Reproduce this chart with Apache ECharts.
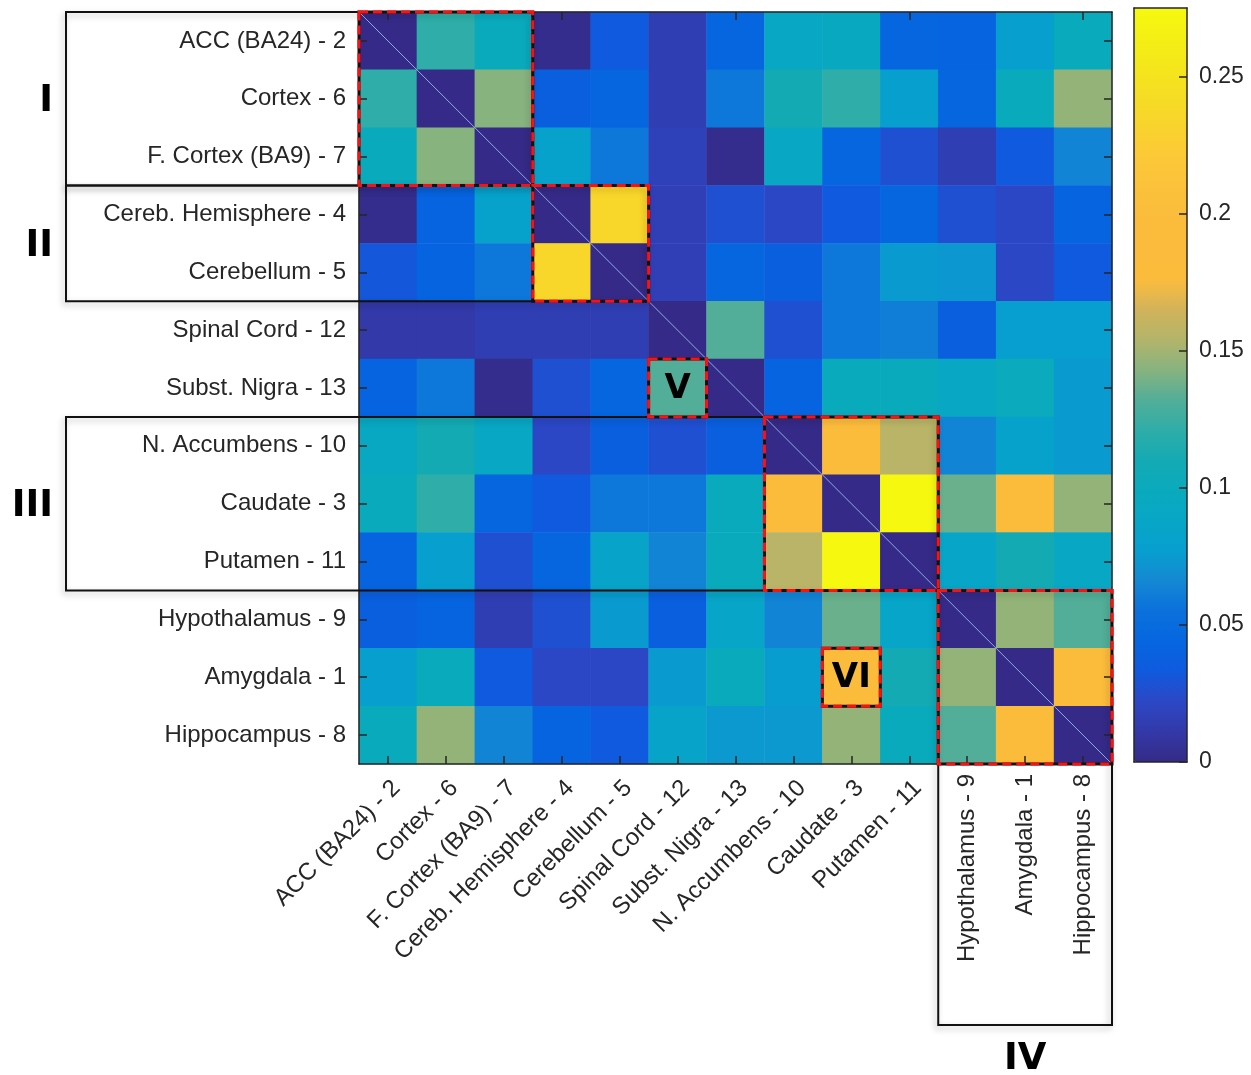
<!DOCTYPE html>
<html><head><meta charset="utf-8">
<script src="https://cdn.jsdelivr.net/npm/echarts@6/dist/echarts.min.js"></script>
<style>html,body{margin:0;padding:0;background:#fff}#c{width:1251px;height:1075px}</style>
</head><body><div id="c"></div>
<script>
// ---- Data ----
const regions = ['ACC (BA24) - 2','Cortex - 6','F. Cortex (BA9) - 7','Cereb. Hemisphere - 4','Cerebellum - 5',
  'Spinal Cord - 12','Subst. Nigra - 13','N. Accumbens - 10','Caudate - 3','Putamen - 11',
  'Hypothalamus - 9','Amygdala - 1','Hippocampus - 8'];
const rowACC      = [0, 0.121, 0.099, 0.002, 0.033, 0.015, 0.044, 0.092, 0.094, 0.044, 0.042, 0.078, 0.099];
const rowCortex   = [0.121, 0, 0.143, 0.038, 0.044, 0.015, 0.058, 0.11, 0.121, 0.078, 0.044, 0.099, 0.146];
const rowFCortex  = [0.099, 0.143, 0, 0.081, 0.058, 0.017, 0.002, 0.092, 0.044, 0.027, 0.015, 0.033, 0.064];
const rowCerebHem = [0.002, 0.042, 0.081, 0, 0.235, 0.016, 0.027, 0.022, 0.033, 0.044, 0.027, 0.022, 0.042];
const rowCerebel  = [0.031, 0.042, 0.058, 0.235, 0, 0.016, 0.044, 0.038, 0.058, 0.075, 0.073, 0.022, 0.033];
const rowSpinal   = [0.011, 0.011, 0.015, 0.015, 0.015, 0, 0.132, 0.027, 0.058, 0.061, 0.038, 0.077, 0.077];
const rowNigra    = [0.042, 0.058, 0.002, 0.027, 0.044, 0.132, 0, 0.042, 0.099, 0.099, 0.092, 0.1, 0.075];
const rowAccumb   = [0.093, 0.11, 0.092, 0.022, 0.038, 0.027, 0.038, 0, 0.195, 0.156, 0.064, 0.082, 0.075];
const rowCaudate  = [0.099, 0.121, 0.044, 0.033, 0.058, 0.058, 0.099, 0.195, 0, 0.275, 0.137, 0.195, 0.146];
const rowPutamen  = [0.042, 0.078, 0.027, 0.044, 0.084, 0.064, 0.099, 0.156, 0.275, 0, 0.086, 0.11, 0.092];
const rowHypoth   = [0.038, 0.042, 0.015, 0.027, 0.075, 0.038, 0.086, 0.064, 0.137, 0.086, 0, 0.146, 0.132];
const rowAmygdala = [0.078, 0.099, 0.033, 0.022, 0.022, 0.075, 0.099, 0.076, 0.195, 0.11, 0.146, 0, 0.195];
const rowHippo    = [0.099, 0.146, 0.064, 0.042, 0.033, 0.084, 0.074, 0.074, 0.146, 0.099, 0.132, 0.195, 0];
const matrixRows = [rowACC, rowCortex, rowFCortex, rowCerebHem, rowCerebel, rowSpinal, rowNigra,
  rowAccumb, rowCaudate, rowPutamen, rowHypoth, rowAmygdala, rowHippo];
const colorbarMin = 0, colorbarMax = 0.275, colorbarStep = 0.05;
const colormap = ['#352a87','#3339a8','#2c47c6','#0f5ade','#0566e0','#0b70dc','#1488d3','#079fcf','#07a6c6',
  '#0aaabd','#14aab4','#2fada8','#52ae98','#87b37f','#b3b46a','#d2b35a','#fbbc3c','#fbbb3c','#fbbc3c',
  '#fbc13a','#fcc838','#f9d22d','#f5dc25','#f4e61b','#f4ef14','#f6f90f'];
// groups: [label, firstIndex, lastIndex]
const groups = [['I',0,2],['II',3,4],['III',7,9],['IV',10,12]];
const singleMarks = [['V',6,5],['VI',11,8]]; // [label,row,col]

// ---- Chart ----
const TXT = '#262626';
const FONT = '"Liberation Sans", Arial, Helvetica, sans-serif';
const FS = 24;
const heatData = [];
matrixRows.forEach((row, r) => row.forEach((v, c) => heatData.push([c, r, v])));
const lineSt = {color: TXT, width: 1.5};
const tickSt = {show: true, inside: true, alignWithLabel: true, length: 8, lineStyle: {color: TXT, width: 1.5}};

const chart = echarts.init(document.getElementById('c'));
chart.setOption({
  animation: false,
  grid: [
    {left: 359, top: 12, width: 753, height: 752},
    {left: 1134, top: 8, width: 53, height: 754}
  ],
  xAxis: [
    {gridIndex: 0, type: 'category', data: regions, position: 'bottom', z: 10,
     axisLine: {show: true, lineStyle: lineSt}, axisTick: tickSt, splitLine: {show: false},
     axisLabel: {interval: 0, rotate: 45, margin: 12, verticalAlign: 'top', fontSize: FS, color: TXT, fontFamily: FONT,
       formatter: (v, i) => i >= 10 ? '' : v}},
    {gridIndex: 0, type: 'category', data: regions, position: 'bottom',
     axisLine: {show: false}, axisTick: {show: false}, splitLine: {show: false},
     axisLabel: {interval: 0, rotate: 90, margin: 10, fontSize: FS, color: TXT, fontFamily: FONT,
       formatter: (v, i) => i >= 10 ? v : ''}},
    {gridIndex: 0, type: 'category', data: regions, position: 'top', z: 10,
     axisLine: {show: true, lineStyle: lineSt}, axisTick: tickSt, axisLabel: {show: false}, splitLine: {show: false}},
    {gridIndex: 1, type: 'value', min: 0, max: 1, position: 'bottom', z: 10,
     axisLine: {show: true, onZero: false, lineStyle: lineSt}, axisTick: {show: false}, axisLabel: {show: false}, splitLine: {show: false}},
    {gridIndex: 1, type: 'value', min: 0, max: 1, position: 'top', z: 10,
     axisLine: {show: true, onZero: false, lineStyle: lineSt}, axisTick: {show: false}, axisLabel: {show: false}, splitLine: {show: false}}
  ],
  yAxis: [
    {gridIndex: 0, type: 'category', data: regions, inverse: true, position: 'left', z: 10,
     axisLine: {show: true, lineStyle: lineSt}, axisTick: tickSt, splitLine: {show: false},
     axisLabel: {interval: 0, margin: 13, fontSize: FS, color: TXT, fontFamily: FONT}},
    {gridIndex: 0, type: 'category', data: regions, inverse: true, position: 'right', z: 10,
     axisLine: {show: true, lineStyle: lineSt}, axisTick: tickSt, axisLabel: {show: false}, splitLine: {show: false}},
    {gridIndex: 1, type: 'value', min: colorbarMin, max: colorbarMax, interval: colorbarStep, position: 'right', z: 10,
     axisLine: {show: true, onZero: false, lineStyle: lineSt},
     axisTick: {show: true, inside: true, length: 8, lineStyle: {color: TXT, width: 1.5}},
     splitLine: {show: false},
     axisLabel: {margin: 12, fontSize: 23, color: TXT, fontFamily: FONT, showMaxLabel: false,
       formatter: v => String(+v.toFixed(2))}},
    {gridIndex: 1, type: 'value', min: colorbarMin, max: colorbarMax, position: 'left', z: 10,
     axisLine: {show: true, onZero: false, lineStyle: lineSt}, axisTick: {show: false}, axisLabel: {show: false}, splitLine: {show: false}}
  ],
  visualMap: {
    type: 'continuous', min: colorbarMin, max: colorbarMax, seriesIndex: 0,
    left: 1134, top: 8, itemWidth: 53, itemHeight: 754, padding: 0,
    calculable: false, hoverLink: false, inRange: {color: colormap}
  },
  series: [{
    type: 'heatmap', xAxisIndex: 0, yAxisIndex: 0, data: heatData,
    emphasis: {disabled: true}, itemStyle: {borderWidth: 0}
  }]
});

// ---- Annotations computed from the grid ----
const rect = chart.getModel().getComponent('grid', 0).coordinateSystem.getRect();
const n = regions.length;
const cw = rect.width / n, ch = rect.height / n;
const gx = rect.x, gy = rect.y;
const labelLeft = 66;
const g = [];
// diagonal line
g.push({type: 'line', z: 50, silent: true,
  shape: {x1: gx, y1: gy, x2: gx + rect.width, y2: gy + rect.height},
  style: {stroke: 'rgba(150,185,235,0.9)', lineWidth: 1}});
const shadow = {shadowBlur: 6, shadowColor: 'rgba(0,0,0,0.28)', shadowOffsetX: -2, shadowOffsetY: 3};
function blackRect(x, y, w, h) {
  g.push({type: 'rect', z: 60, silent: true, shape: {x, y, width: w, height: h},
    style: Object.assign({fill: null, stroke: '#111', lineWidth: 2}, shadow)});
}
function dashedCells(c0, r0, c1, r1) {
  const x = gx + c0 * cw, y = gy + r0 * ch, w = (c1 - c0 + 1) * cw, h = (r1 - r0 + 1) * ch;
  g.push({type: 'rect', z: 61, silent: true, shape: {x, y, width: w, height: h},
    style: {fill: null, stroke: '#111', lineWidth: 3}});
  g.push({type: 'rect', z: 62, silent: true, shape: {x, y, width: w, height: h},
    style: {fill: null, stroke: '#ff1010', lineWidth: 3, lineDash: [9, 5]}});
}
const romanStyle = {fontFamily: '"DejaVu Sans", Verdana, sans-serif', fontWeight: 'bold', fontSize: 37, fill: '#000'};
groups.forEach(([lab, a, b]) => {
  if (lab === 'IV') {
    blackRect(gx + a * cw, gy + a * ch, (b - a + 1) * cw, 1025 - (gy + a * ch));
    g.push({type: 'text', z: 70, silent: true, style: Object.assign({text: lab, x: gx + (a + b + 1) / 2 * cw, y: 1041,
      align: 'center', verticalAlign: 'top'}, romanStyle)});
  } else {
    blackRect(labelLeft, gy + a * ch, gx + (b + 1) * cw - labelLeft, (b - a + 1) * ch);
    g.push({type: 'text', z: 70, silent: true, style: Object.assign({text: lab, x: 53, y: gy + (a + b + 1) / 2 * ch + 3,
      align: 'right', verticalAlign: 'middle'}, romanStyle)});
  }
  dashedCells(a, a, b, b);
});
singleMarks.forEach(([lab, r, c]) => {
  dashedCells(c, r, c, r);
  g.push({type: 'text', z: 70, silent: true, style: Object.assign({text: lab, x: gx + (c + 0.5) * cw, y: gy + (r + 0.5) * ch + 1,
    align: 'center', verticalAlign: 'middle'}, romanStyle, {fontSize: 34})});
});
chart.setOption({graphic: g});
</script>
</body></html>
